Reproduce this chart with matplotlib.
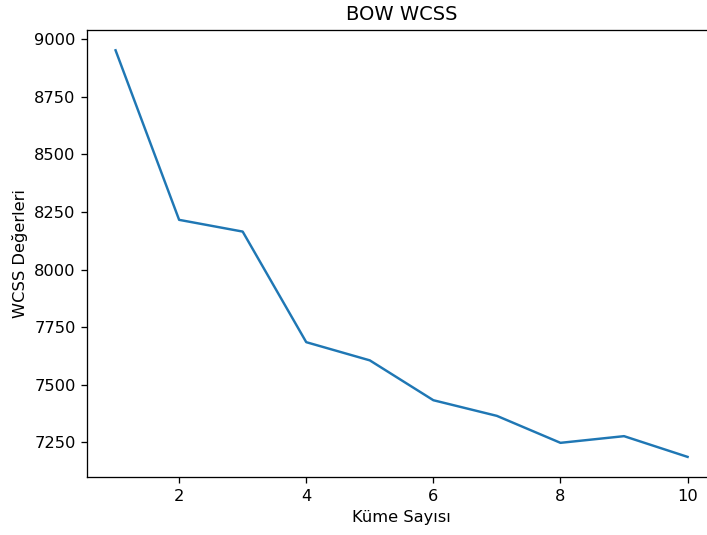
import matplotlib
matplotlib.use('Agg')
import matplotlib.pyplot as plt

kume_sayisi = [1, 2, 3, 4, 5, 6, 7, 8, 9, 10]
wcss = [8952, 8216, 8165, 7685, 7606, 7433, 7365, 7248, 7277, 7187]

# reference looks like a default plot rendered a bit larger and cropped on the right
dpi = 117
fig = plt.figure(figsize=(707 / dpi, 535 / dpi), dpi=dpi)
plt.subplots_adjust(left=0.123, right=1.013, top=0.944, bottom=0.108)
plt.plot(kume_sayisi, wcss)
plt.title('BOW WCSS')
plt.xlabel('Küme Sayısı')
plt.ylabel('WCSS Değerleri')
plt.savefig('out.png', dpi=dpi)
